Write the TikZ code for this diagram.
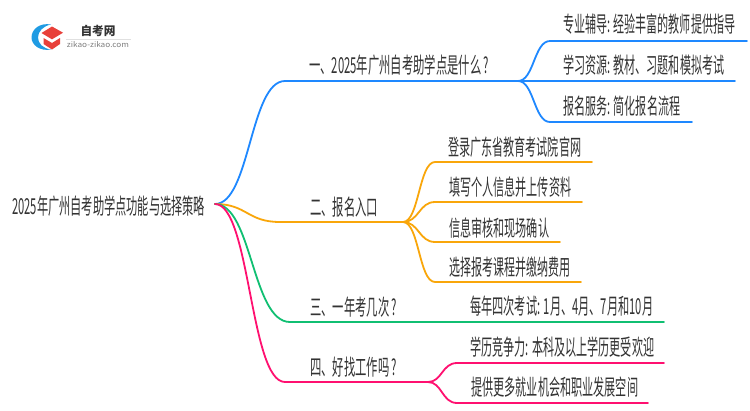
\documentclass[tikz,border=0pt]{standalone}
\usepackage{fontspec}
\setmainfont{Noto Sans CJK SC}
\newcommand{\fitw}[2]{\resizebox{#1pt}{\height}{#2}}
\definecolor{cblue}{HTML}{1E88FF}
\definecolor{corange}{HTML}{F9A60A}
\definecolor{cgreen}{HTML}{10BF72}
\definecolor{cpink}{HTML}{FF1070}
\definecolor{ctext}{HTML}{333333}
\definecolor{lblue}{HTML}{1F9BE3}
\definecolor{lred}{HTML}{E8403A}
\tikzset{
  lab/.style={anchor=west,inner sep=0pt,text=ctext,font=\fontsize{22}{24}\selectfont},
  conn/.style={line width=1.8pt,line cap=round},
  logoicon/.style={draw=none}
}
\begin{document}
\begin{tikzpicture}[x=1pt,y=-1pt]
\useasboundingbox (0,0) rectangle (750,410);
% logo
\fill[logoicon,fill=white] (0,0) rectangle (750,410);
\fill[logoicon,fill=lblue] (51,24.5) .. controls (40,22.5) and (31.5,29) .. (31.5,37.5) .. controls (31.5,45) and (40,51.5) .. (51,49.5) .. controls (43,48.5) and (38,43.5) .. (38,37.5) .. controls (38,31.5) and (43,26) .. (51,24.5) -- cycle;
\fill[logoicon,fill=lred] (41.5,33) -- (52,26.5) -- (63,32.7) -- (52,39.3) -- cycle;
\fill[logoicon,fill=lred] (43.5,38) -- (52,43) -- (60,38) -- (60,44) -- (52,49.5) -- (43.5,44) -- cycle;
\node[anchor=center,inner sep=0pt,text=ctext,font=\fontsize{12}{13}\selectfont\bfseries] (logotitle) at (98,31) {\fitw{35}{自考网}};
\node[anchor=center,inner sep=0pt,text=gray,font=\fontsize{7.5}{9}\selectfont] (logosub) at (98,45) {\fitw{62}{zikao-zikao.com}};
\coordinate (logoL) at (66,39);
\coordinate (logoR) at (131,39);
\draw[black!12,line width=.6pt] (logoL) -- (logoR);
% coordinates
\coordinate (r) at (215,204);
\coordinate (a0) at (285,81);   \coordinate (aj) at (518,81);
\coordinate (b0) at (280,222);  \coordinate (bj) at (403,222);
\coordinate (c0) at (290,322);  \coordinate (ce) at (664,322);
\coordinate (d0) at (285,382);  \coordinate (dj) at (428,382);
\coordinate (a1s) at (550,41);  \coordinate (a1e) at (747,41);
\coordinate (a2e) at (735,81);
\coordinate (a3s) at (550,122); \coordinate (a3e) at (692,122);
\coordinate (b1s) at (435,162); \coordinate (b1e) at (592,162);
\coordinate (b2s) at (435,202); \coordinate (b2e) at (582,202);
\coordinate (b3s) at (435,242); \coordinate (b3e) at (560,242);
\coordinate (b4s) at (435,282); \coordinate (b4e) at (581,282);
\coordinate (d1s) at (457,363); \coordinate (d1e) at (664,363);
\coordinate (d2s) at (457,403); \coordinate (d2e) at (648,403);
% connectors
\draw[conn,cblue] (r) .. controls (250,204) and (250,81) .. (a0) -- (aj);
\draw[conn,cblue] (aj) .. controls (534,81) and (534,41) .. (a1s) -- (a1e);
\draw[conn,cblue] (aj) -- (a2e);
\draw[conn,cblue] (aj) .. controls (534,81) and (534,122) .. (a3s) -- (a3e);
\draw[conn,corange] (r) .. controls (247,204) and (247,222) .. (b0) -- (bj);
\draw[conn,corange] (bj) .. controls (419,222) and (419,162) .. (b1s) -- (b1e);
\draw[conn,corange] (bj) .. controls (419,222) and (419,202) .. (b2s) -- (b2e);
\draw[conn,corange] (bj) .. controls (419,222) and (419,242) .. (b3s) -- (b3e);
\draw[conn,corange] (bj) .. controls (419,222) and (419,282) .. (b4s) -- (b4e);
\draw[conn,cgreen] (r) .. controls (252,204) and (252,322) .. (c0) -- (ce);
\draw[conn,cpink] (r) .. controls (250,204) and (250,382) .. (d0) -- (dj);
\draw[conn,cpink] (dj) .. controls (442,382) and (442,363) .. (d1s) -- (d1e);
\draw[conn,cpink] (dj) .. controls (442,382) and (442,403) .. (d2s) -- (d2e);
% labels
\node[lab] (root) at (12,206) {\fitw{193}{2025年广州自考助学点功能与选择策略}};
\node[lab] (na) at (309,65) {\fitw{180}{一、2025年广州自考助学点是什么 ?}};
\node[lab] (nb) at (310,207) {\fitw{68}{二、报名入口}};
\node[lab] (nc) at (310,307) {\fitw{87}{三、一年考几次 ?}};
\node[lab] (nd) at (310,367) {\fitw{87}{四、好找工作吗 ?}};
\node[lab] (a1) at (563,24) {\fitw{172}{专业辅导: 经验丰富的教师提供指导}};
\node[lab] (a2) at (563,65) {\fitw{161}{学习资源: 教材、习题和模拟考试}};
\node[lab] (a3) at (563,106) {\fitw{117}{报名服务: 简化报名流程}};
\node[lab] (b1) at (448,147) {\fitw{133}{登录广东省教育考试院官网}};
\node[lab] (b2) at (449,187) {\fitw{122}{填写个人信息并上传资料}};
\node[lab] (b3) at (449,228) {\fitw{100}{信息审核和现场确认}};
\node[lab] (b4) at (449,267) {\fitw{121}{选择报考课程并缴纳费用}};
\node[lab] (c1) at (470,306) {\fitw{183}{每年四次考试: 1月、4月、7月和10月}};
\node[lab] (d1) at (470,347) {\fitw{184}{学历竞争力: 本科及以上学历更受欢迎}};
\node[lab] (d2) at (471,387) {\fitw{167}{提供更多就业机会和职业发展空间}};
\end{tikzpicture}
\end{document}
